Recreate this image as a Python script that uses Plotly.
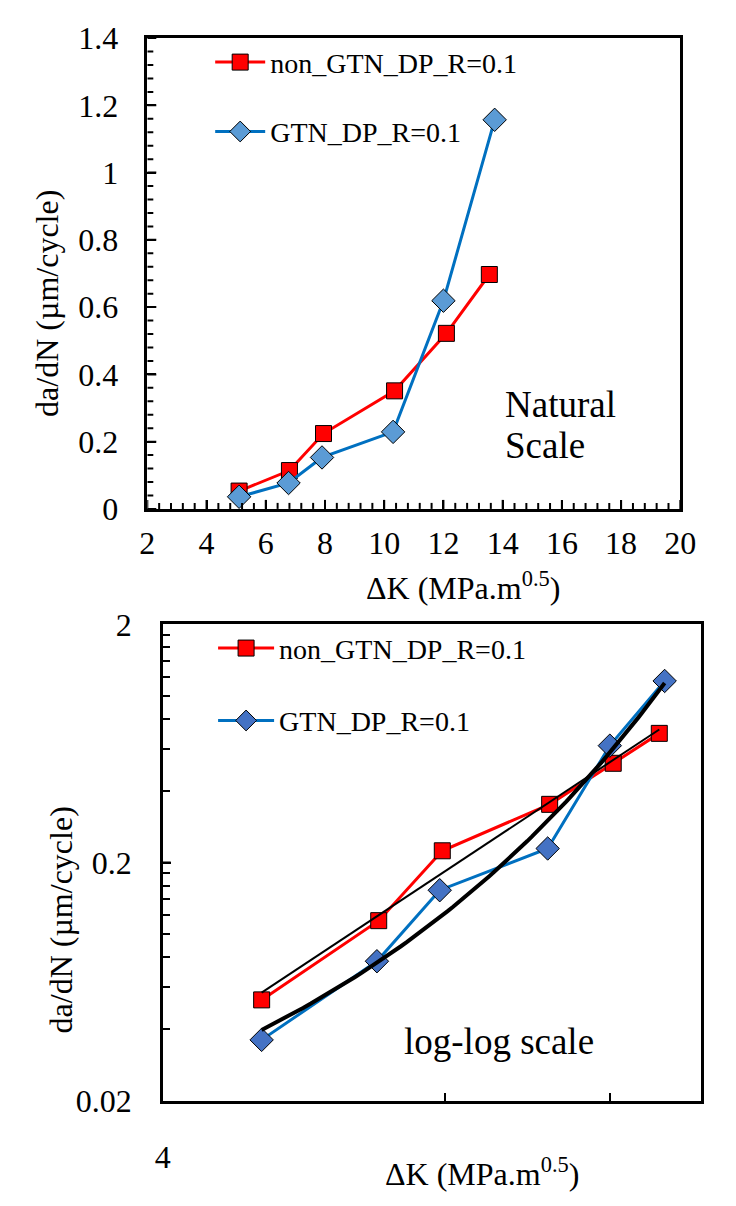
import numpy as np
import plotly.graph_objects as go

# ---------------- data ----------------
dk_non_gtn = [5.1, 6.8, 7.95, 10.35, 12.1, 13.55]          # ΔK, MPa.m^0.5
dadn_non_gtn = [0.053, 0.114, 0.224, 0.351, 0.522, 0.697]  # da/dN, µm/cycle
dk_gtn = [5.1, 6.77, 7.9, 10.3, 12.0, 13.73]
dadn_gtn = [0.036, 0.077, 0.153, 0.229, 0.619, 1.157]

name_non = "non_GTN_DP_R=0.1"
name_gtn = "GTN_DP_R=0.1"

top_x_ticks = [2, 4, 6, 8, 10, 12, 14, 16, 18, 20]
top_y_ticks = [0, 0.2, 0.4, 0.6, 0.8, 1, 1.2, 1.4]
top_y_labels = ["0", "0.2", "0.4", "0.6", "0.8", "1", "1.2", "1.4"]
top_x_minor = [round(2 + 0.4 * i, 2) for i in range(46)]
top_y_minor = [round(0.04 * i, 2) for i in range(36)]
bot_x_ticks = [4, 8, 12]
bot_x_labels = ["4", "", ""]
bot_y_ticks = [0.02, 0.2, 2]
bot_y_labels = ["0.02", "0.2", "2"]
bot_y_minor = [0.04, 0.06, 0.08, 0.1, 0.12, 0.14, 0.16, 0.18,
               0.4, 0.6, 0.8, 1.0, 1.2, 1.4, 1.6, 1.8]

FONT = "Liberation Serif"
W, H = 736, 1206
RED = "#FF0000"
BLUE = "#0070C0"


def px(x):
    return x / W


def py(y):
    return 1 - y / H


# trendlines: least-squares fits of the data (power law / exponential)
c_pow = np.polyfit(np.log10(dk_non_gtn), np.log10(dadn_non_gtn), 1)
xp = np.array([min(dk_non_gtn), max(dk_non_gtn)])
yp = 10 ** np.polyval(c_pow, np.log10(xp))
c_exp = np.polyfit(dk_gtn, np.log(dadn_gtn), 1)
xe = np.linspace(min(dk_gtn), max(dk_gtn), 80)
ye = np.exp(np.polyval(c_exp, xe))

fig = go.Figure()
fig.add_trace(go.Scatter(
    x=dk_non_gtn, y=dadn_non_gtn, name=name_non, mode="lines+markers",
    line=dict(color=RED, width=3),
    marker=dict(symbol="square", size=16, color=RED, line=dict(color="black", width=1)),
    xaxis="x", yaxis="y", legend="legend", legendgroup="a"))
fig.add_trace(go.Scatter(
    x=dk_gtn, y=dadn_gtn, name=name_gtn, mode="lines+markers",
    line=dict(color=BLUE, width=3),
    marker=dict(symbol="diamond", size=18, color="#5B9BD5", line=dict(color="black", width=1)),
    xaxis="x", yaxis="y", legend="legend", legendgroup="b"))
fig.add_trace(go.Scatter(
    x=dk_non_gtn, y=dadn_non_gtn, name=name_non, mode="lines+markers",
    line=dict(color=RED, width=3),
    marker=dict(symbol="square", size=16, color=RED, line=dict(color="black", width=1)),
    xaxis="x2", yaxis="y2", legend="legend2", legendgroup="c"))
fig.add_trace(go.Scatter(
    x=dk_gtn, y=dadn_gtn, name=name_gtn, mode="lines+markers",
    line=dict(color=BLUE, width=3),
    marker=dict(symbol="diamond", size=18, color="#4472C4", line=dict(color="black", width=1)),
    xaxis="x2", yaxis="y2", legend="legend2", legendgroup="d"))
fig.add_trace(go.Scatter(
    x=xp, y=yp, mode="lines", line=dict(color="black", width=2),
    xaxis="x2", yaxis="y2", showlegend=False, hoverinfo="skip"))
fig.add_trace(go.Scatter(
    x=xe, y=ye, mode="lines", line=dict(color="black", width=4),
    xaxis="x2", yaxis="y2", showlegend=False, hoverinfo="skip"))

tickfont = dict(family=FONT, size=32, color="black")
common = dict(showline=True, linecolor="black", linewidth=2.5, mirror=True,
              showgrid=False, zeroline=False, tickcolor="black",
              tickwidth=2, tickfont=tickfont)
legend_font = dict(family=FONT, size=28, color="black")

fig.update_layout(
    width=W, height=H, autosize=False,
    margin=dict(l=0, r=0, t=0, b=0),
    paper_bgcolor="white", plot_bgcolor="white",
    font=dict(family=FONT, color="black"),
    xaxis=dict(domain=[px(144), px(695)], range=[2, 20], anchor="y", type="linear",
               tickmode="array", tickvals=top_x_ticks,
               ticks="inside", ticklen=9, ticklabelstandoff=4, **common),
    yaxis=dict(domain=[py(506), py(20.7)], range=[0, 1.4], anchor="x", type="linear",
               tickmode="array", tickvals=top_y_ticks, ticktext=top_y_labels,
               ticks="inside", ticklen=9, ticklabelstandoff=20, **common),
    xaxis2=dict(domain=[px(160), px(716)], type="log",
                range=[np.log10(4), np.log10(15)], anchor="y2",
                tickmode="array", tickvals=bot_x_ticks, ticktext=bot_x_labels,
                ticks="inside", ticklen=8, ticklabelstandoff=26, **common),
    yaxis2=dict(domain=[py(1116), py(625)], type="log",
                range=[np.log10(0.02), np.log10(2)], anchor="x2",
                tickmode="array", tickvals=bot_y_ticks, ticktext=bot_y_labels,
                ticks="inside", ticklen=8,
                minor=dict(tickmode="array", tickvals=bot_y_minor, ticks="inside",
                           ticklen=7, tickwidth=2, tickcolor="black"),
                ticklabelstandoff=22, **common),
    legend=dict(x=px(209), y=py(20), xanchor="left", yanchor="top",
                font=legend_font, bgcolor="rgba(0,0,0,0)", tracegroupgap=30,
                itemwidth=50),
    legend2=dict(x=px(212), y=py(624), xanchor="left", yanchor="top",
                 font=legend_font, bgcolor="rgba(0,0,0,0)", tracegroupgap=33,
                 itemwidth=56),
    showlegend=True,
)

# inside tick marks of the natural-scale chart, placed through the axes' own scales
tick_line = dict(color="black", width=2)
for v in top_x_minor:
    ln = 9 if v in top_x_ticks else 6
    fig.add_shape(type="line", xref="x", yref="y", ysizemode="pixel", yanchor=0,
                  x0=v, x1=v, y0=0, y1=ln, line=tick_line, layer="above")
for v in top_y_minor:
    ln = 9 if any(abs(v - t) < 1e-9 for t in top_y_ticks) else 6
    fig.add_shape(type="line", xref="x", yref="y", xsizemode="pixel", xanchor=2,
                  x0=0, x1=ln, y0=v, y1=v, line=tick_line, layer="above")
# labelled tick of the log-log y axis
fig.add_shape(type="line", xref="x2", yref="y2", xsizemode="pixel", xanchor=4,
              x0=0, x1=8, y0=0.2, y1=0.2, line=tick_line, layer="above")

ann_font = dict(family=FONT, size=32, color="black")
big_font = dict(family=FONT, size=37, color="black")
fig.add_annotation(x=px(470), y=py(585), xref="paper", yref="paper",
                   text="ΔK (MPa.m<sup>0.5</sup>)", showarrow=False,
                   xanchor="center", yanchor="middle", font=ann_font)
fig.add_annotation(x=px(41), y=py(294), xref="paper", yref="paper",
                   text="da/dN (µm/cycle)", showarrow=False, textangle=-90,
                   xanchor="center", yanchor="middle", font=ann_font)
fig.add_annotation(x=px(512), y=py(398), xref="paper", yref="paper",
                   text="Natural", showarrow=False,
                   xanchor="left", yanchor="middle", font=big_font)
fig.add_annotation(x=px(512), y=py(441), xref="paper", yref="paper",
                   text="Scale", showarrow=False,
                   xanchor="left", yanchor="middle", font=big_font)
fig.add_annotation(x=px(490), y=py(1190), xref="paper", yref="paper",
                   text="ΔK (MPa.m<sup>0.5</sup>)", showarrow=False,
                   xanchor="center", yanchor="middle", font=ann_font)
fig.add_annotation(x=px(55), y=py(930), xref="paper", yref="paper",
                   text="da/dN (µm/cycle)", showarrow=False, textangle=-90,
                   xanchor="center", yanchor="middle", font=ann_font)
fig.add_annotation(x=px(407), y=py(1055), xref="paper", yref="paper",
                   text="log-log scale", showarrow=False,
                   xanchor="left", yanchor="middle", font=big_font)

fig.write_html("out.html")
